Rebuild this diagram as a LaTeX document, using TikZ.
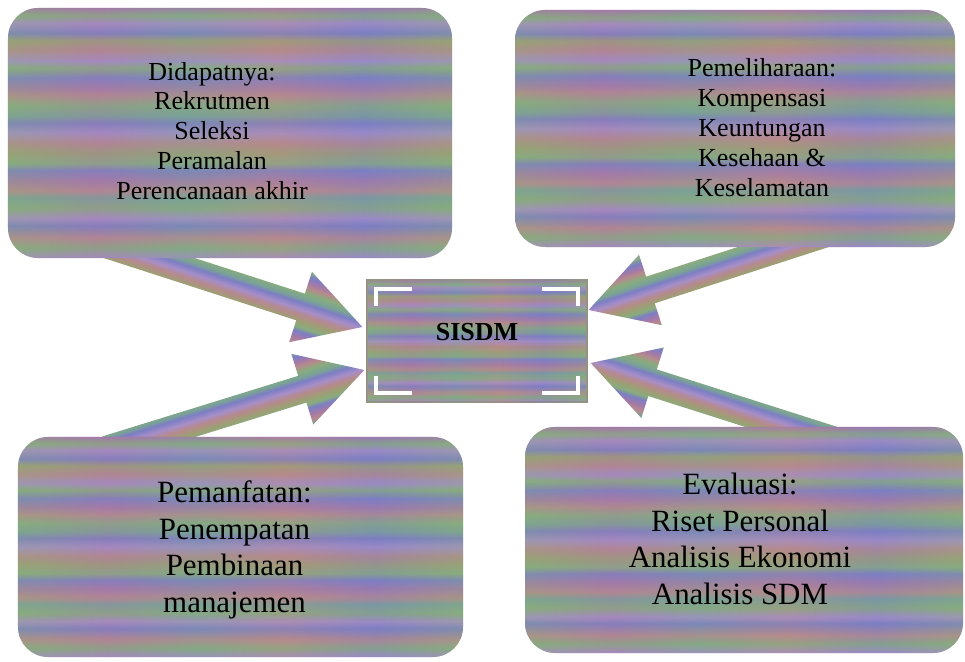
\documentclass[tikz,border=0pt]{standalone}
\usepackage{fontspec}
\setmainfont{Liberation Serif}
\usetikzlibrary{positioning, calc, backgrounds}
\definecolor{rbLilac}{RGB}{166,142,200}
\definecolor{rbBlue}{RGB}{124,126,196}
\definecolor{rbGreen}{RGB}{136,172,126}
\definecolor{rbRose}{RGB}{182,138,140}
\definecolor{rbSage}{RGB}{122,162,150}
\definecolor{rbMauve}{RGB}{164,122,168}
\definecolor{rbOlive}{RGB}{158,158,116}
\definecolor{frame}{RGB}{150,140,132}
\pgfdeclareverticalshading{rainbow}{100bp}{color(0bp)=(rbLilac); color(25bp)=(rbLilac);
    color(27bp)=(rbGreen); color(29bp)=(rbRose); color(31.5bp)=(rbBlue); color(33bp)=(rbLilac);
    color(35bp)=(rbGreen); color(37bp)=(rbSage); color(38.5bp)=(rbRose); color(40.5bp)=(rbMauve);
    color(42.5bp)=(rbBlue); color(44bp)=(rbGreen); color(46bp)=(rbOlive); color(48bp)=(rbRose);
    color(50bp)=(rbLilac); color(52bp)=(rbBlue); color(53.5bp)=(rbSage); color(55.5bp)=(rbGreen);
    color(57.5bp)=(rbRose); color(59bp)=(rbMauve); color(61bp)=(rbBlue); color(63bp)=(rbGreen);
    color(64.5bp)=(rbLilac); color(66.5bp)=(rbRose); color(68.5bp)=(rbOlive); color(70bp)=(rbBlue);
    color(72bp)=(rbLilac); color(73.5bp)=(rbGreen); color(75bp)=(rbMauve); color(100bp)=(rbMauve)}
\pgfdeclarehorizontalshading{haze}{100bp}{color(0bp)=(rbGreen); color(25bp)=(rbGreen);
    color(35bp)=(rbMauve); color(45bp)=(rbSage); color(55bp)=(rbRose); color(65bp)=(rbBlue);
    color(75bp)=(rbGreen); color(100bp)=(rbGreen)}
\newcommand{\blockarrow}[3]{%
    \coordinate (hb) at ($(#2)!16.25mm!(#1)$);
    \shade[shading=rainbow, shading angle=#3]
        ($(#1)!3.5mm!90:(#2)$) -- ($(hb)!3.5mm!90:(#2)$) -- ($(hb)!9.25mm!90:(#2)$)
        -- (#2) -- ($(hb)!9.25mm!-90:(#2)$) -- ($(hb)!3.5mm!-90:(#2)$)
        -- ($(#1)!3.5mm!-90:(#2)$) -- cycle;
}

\begin{document}
\begin{tikzpicture}[x=0.25mm, y=-0.25mm,
        infobox/.style={rounded corners=7.5mm, shading=rainbow, postaction={shading=haze, opacity=0.3}},
        boxtext/.style={align=center, text=black, inner sep=0pt},
        bracket/.style={draw=white, line width=1mm}]
    \useasboundingbox (0,0) rectangle (965,662);
    \node[infobox, minimum width=111mm, minimum height=62.5mm] (dapat) at (230,133) {};
    \node[infobox, minimum width=110mm, minimum height=59.25mm] (pelihara) at (735,128.5) {};
    \node[infobox, minimum width=111.25mm, minimum height=55mm] (manfaat) at (240.5,547) {};
    \node[infobox, minimum width=109.5mm, minimum height=56.5mm] (evaluasi) at (744,540) {};
    \node[infobox, rounded corners=0pt, minimum width=55mm, minimum height=30.5mm, draw=frame, line width=0.3mm,
        font=\fontsize{18.5}{22}\selectfont\bfseries] (sisdm) at (477,341) {\raisebox{0pt}[0pt][0pt]{SISDM}};

    \node[boxtext, font=\fontsize{18.5}{21.3}\selectfont] (dapat-t) at ([shift={(-4.5mm,0.5mm)}]dapat.center)
        {Didapatnya:\\Rekrutmen\\Seleksi\\Peramalan\\Perencanaan akhir};
    \node[boxtext, font=\fontsize{18.5}{21.3}\selectfont] (pelihara-t) at ([shift={(6.75mm,0.25mm)}]pelihara.center)
        {Pemeliharaan:\\Kompensasi\\Keuntungan\\Kesehaan \&\\Keselamatan};
    \node[boxtext, font=\fontsize{22}{26}\selectfont] (manfaat-t) at ([shift={(-1.5mm,-0.75mm)}]manfaat.center)
        {Pemanfatan:\\Penempatan\\Pembinaan\\manajemen};
    \node[boxtext, font=\fontsize{22}{26}\selectfont] (evaluasi-t) at ([shift={(-1mm,0.25mm)}]evaluasi.center)
        {Evaluasi:\\Riset Personal\\Analisis Ekonomi\\Analisis SDM};

    \draw[bracket] ($(sisdm.north west)+(2.5mm,-6.75mm)$) -- ++(0,4.25mm) -- ++(9mm,0);
    \draw[bracket] ($(sisdm.north east)+(-2.5mm,-6.75mm)$) -- ++(0,4.25mm) -- ++(-9mm,0);
    \draw[bracket] ($(sisdm.south west)+(2.5mm,6.75mm)$) -- ++(0,-4.25mm) -- ++(9mm,0);
    \draw[bracket] ($(sisdm.south east)+(-2.5mm,6.75mm)$) -- ++(0,-4.25mm) -- ++(-9mm,0);

    \begin{pgfonlayer}{background}
        \coordinate (dapat-tail) at ($(dapat.south west)+(99,-14)$);
        \coordinate (dapat-tip) at ($(sisdm.west)+(-4,-14)$);
        \coordinate (manfaat-tail) at ($(manfaat.north west)+(89,13)$);
        \coordinate (manfaat-tip) at ($(sisdm.west)+(-2,29)$);
        \coordinate (pelihara-tail) at ($(pelihara.south west)+(311,-14)$);
        \coordinate (pelihara-tip) at ($(sisdm.east)+(1,-31)$);
        \coordinate (evaluasi-tail) at ($(evaluasi.north west)+(313,15)$);
        \coordinate (evaluasi-tip) at ($(sisdm.east)+(3,22)$);
        \blockarrow{dapat-tail}{dapat-tip}{-18}
        \blockarrow{manfaat-tail}{manfaat-tip}{17}
        \blockarrow{pelihara-tail}{pelihara-tip}{18}
        \blockarrow{evaluasi-tail}{evaluasi-tip}{-18}
    \end{pgfonlayer}
\end{tikzpicture}
\end{document}
